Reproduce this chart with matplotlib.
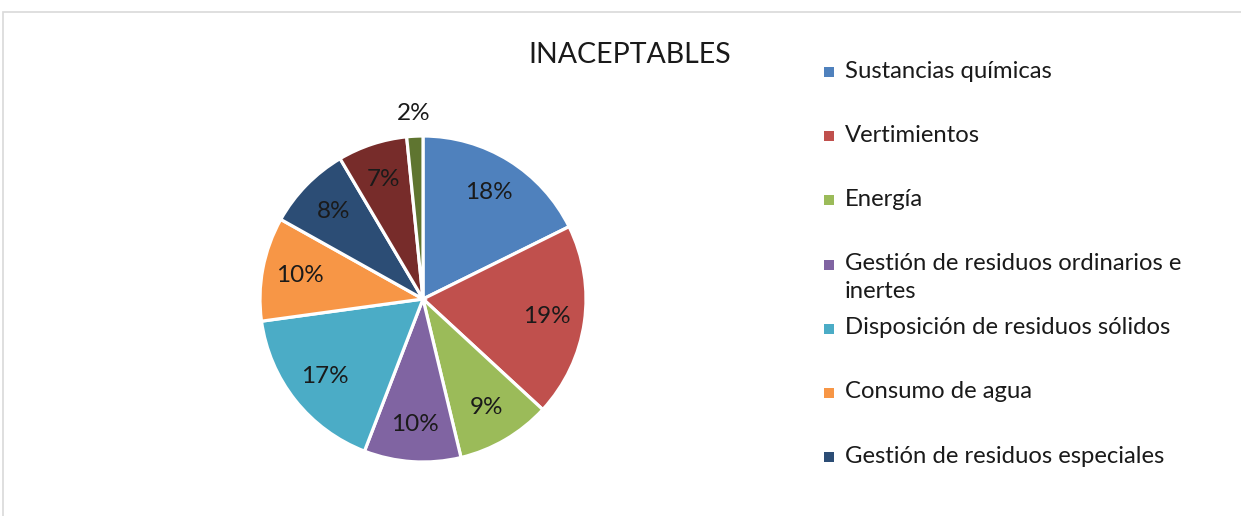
import matplotlib.pyplot as plt
from matplotlib.patches import Rectangle

# datos
categorias = ['Sustancias químicas', 'Vertimientos', 'Energía',
              'Gestión de residuos ordinarios e\ninertes',
              'Disposición de residuos sólidos', 'Consumo de agua',
              'Gestión de residuos especiales', 'Otros 1', 'Otros 2']
valores = [17.7, 19.2, 9.4, 9.6, 17.0, 10.3, 8.4, 6.9, 1.6]
colores = ['#4F81BD', '#C0504D', '#9BBB59', '#8064A2', '#4BACC6',
           '#F79646', '#2C4D75', '#772C2A', '#5F7530']
n_leyenda = 7

W, H = 1241, 516
fig = plt.figure(figsize=(W / 100, H / 100), dpi=100)
plt.rcParams['font.family'] = ['Lato', 'DejaVu Sans']

# marco gris
fig.patches.append(Rectangle((3 / W, -0.1), 1.1, 1 - 12 / H + 0.1,
                             transform=fig.transFigure, fill=False,
                             ec='#D9D9D9', lw=1.2))

cx, cy, r = 423, 299, 163
ax = fig.add_axes([(cx - r) / W, (H - cy - r) / H, 2 * r / W, 2 * r / H])

wedges, texts, autotexts = ax.pie(
    valores, colors=colores, startangle=90, counterclock=False,
    autopct='%.0f%%', pctdistance=0.77, radius=1,
    wedgeprops=dict(edgecolor='white', linewidth=2.3),
    textprops=dict(fontsize=17.5, color='#1a1a1a'))
# la etiqueta pequeña va fuera
autotexts[-1].set_position((autotexts[-1].get_position()[0] * 1.5,
                            autotexts[-1].get_position()[1] * 1.48))
ax.set_xlim(-1, 1)
ax.set_ylim(-1, 1)
ax.set_aspect('auto')
ax.axis('off')

fig.text(630 / W, 1 - 55 / H, 'INACEPTABLES', ha='center', va='center',
         fontsize=20.5, color='#1a1a1a')

# leyenda
for i in range(n_leyenda):
    y = 72 + 64.2 * i
    fig.patches.append(Rectangle((824 / W, 1 - (y + 5) / H), 10 / W, 10 / H,
                                 transform=fig.transFigure,
                                 fc=colores[i], ec='none'))
    fig.text(845 / W, 1 - (y - 11.5) / H, categorias[i], ha='left', va='top',
             fontsize=17.2, color='#1a1a1a', linespacing=1.4)

fig.savefig('out.png', dpi=100)
